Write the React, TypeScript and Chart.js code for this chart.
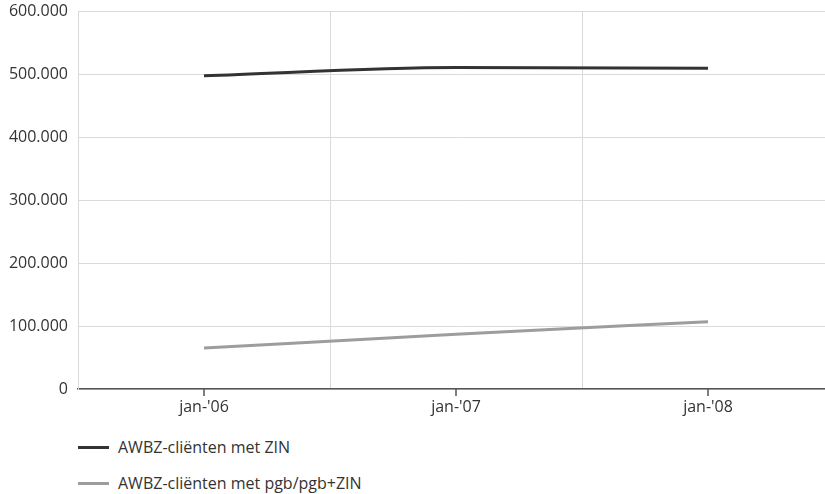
import React, { useEffect, useRef } from "react";
import { Chart, registerables } from "chart.js";

Chart.register(...registerables);

const categories = ["jan-'06", "jan-'07", "jan-'08"];
const zinValues = [498000, 511000, 510000];
const pgbValues = [65000, 87000, 107000];
const seriesLabels = ["AWBZ-cliënten met ZIN", "AWBZ-cliënten met pgb/pgb+ZIN"];
const seriesColors = ["#333333", "#9d9d9d"];
const yMin = 0;
const yMax = 600000;
const yStep = 100000;

const FONT = "'Open Sans', 'Noto Sans', sans-serif";
const TEXT = "#333333";

function fmt(v: number): string {
  const s = Math.round(v).toString();
  return s.replace(/\B(?=(\d{3})+(?!\d))/g, ".");
}

const tickMarks = {
  id: "tickMarks",
  afterDraw(chart: any) {
    const x = chart.scales.x;
    const ctx = chart.ctx;
    const bottom = chart.chartArea.bottom;
    ctx.save();
    ctx.strokeStyle = "#555555";
    ctx.lineWidth = 1.5;
    categories.forEach((_, i) => {
      const px = x.getPixelForTick(i);
      ctx.beginPath();
      ctx.moveTo(px, bottom);
      ctx.lineTo(px, bottom + 7);
      ctx.stroke();
    });
    ctx.restore();
  },
};

export default function App() {
  const ref = useRef<HTMLCanvasElement | null>(null);

  useEffect(() => {
    if (!ref.current) return;
    const chart = new Chart(ref.current, {
      type: "line",
      data: {
        labels: categories,
        datasets: [
          {
            label: seriesLabels[0],
            data: zinValues,
            borderColor: seriesColors[0],
            backgroundColor: seriesColors[0],
            borderWidth: 3,
            pointRadius: 0,
            cubicInterpolationMode: "monotone",
          },
          {
            label: seriesLabels[1],
            data: pgbValues,
            borderColor: seriesColors[1],
            backgroundColor: seriesColors[1],
            borderWidth: 3,
            pointRadius: 0,
            cubicInterpolationMode: "monotone",
          },
        ],
      },
      options: {
        animation: false,
        responsive: false,
        maintainAspectRatio: false,
        layout: { padding: { left: 0, right: 6, top: 1, bottom: 0 } },
        plugins: {
          legend: { display: false },
          tooltip: { enabled: false },
        },
        scales: {
          x: {
            type: "category",
            offset: true,
            grid: {
              offset: true,
              color: "#dadada",
              lineWidth: 1,
              drawTicks: false,
            },
            border: { color: "#555555", width: 1.5 },
            ticks: {
              color: TEXT,
              font: { family: FONT, size: 16 },
              padding: 9,
              maxRotation: 0,
            },
            afterFit: (s: any) => {
              s.height = 41;
            },
          },
          y: {
            min: yMin,
            max: yMax,
            grid: { color: "#dadada", lineWidth: 1, drawTicks: false },
            border: { color: "#dadada", width: 1 },
            ticks: {
              stepSize: yStep,
              color: TEXT,
              font: { family: FONT, size: 16 },
              padding: 10,
              callback: (v: any) => fmt(Number(v)),
            },
            afterFit: (s: any) => {
              s.width = 78;
            },
          },
        },
      },
      plugins: [tickMarks],
    });
    return () => chart.destroy();
  }, []);

  const legendTops = [447, 483];

  return (
    <div style={{ position: "fixed", left: 0, top: 0, width: 825, height: 494, overflow: "hidden", background: "#fff" }}>
      <div style={{ position: "absolute", left: 0, top: -8, width: 840, height: 438 }}>
        <canvas ref={ref} width={840} height={438} style={{ width: 840, height: 438 }} />
      </div>
      {seriesLabels.map((lab, i) => (
        <div
          key={lab}
          style={{
            position: "absolute",
            left: 78,
            top: legendTops[i] - 12,
            height: 24,
            display: "flex",
            alignItems: "center",
            fontFamily: FONT,
            fontSize: 16,
            color: TEXT,
            whiteSpace: "nowrap",
          }}
        >
          <span style={{ display: "inline-block", width: 31, height: 3, background: seriesColors[i], marginRight: 9 }} />
          <span>{lab}</span>
        </div>
      ))}
    </div>
  );
}
